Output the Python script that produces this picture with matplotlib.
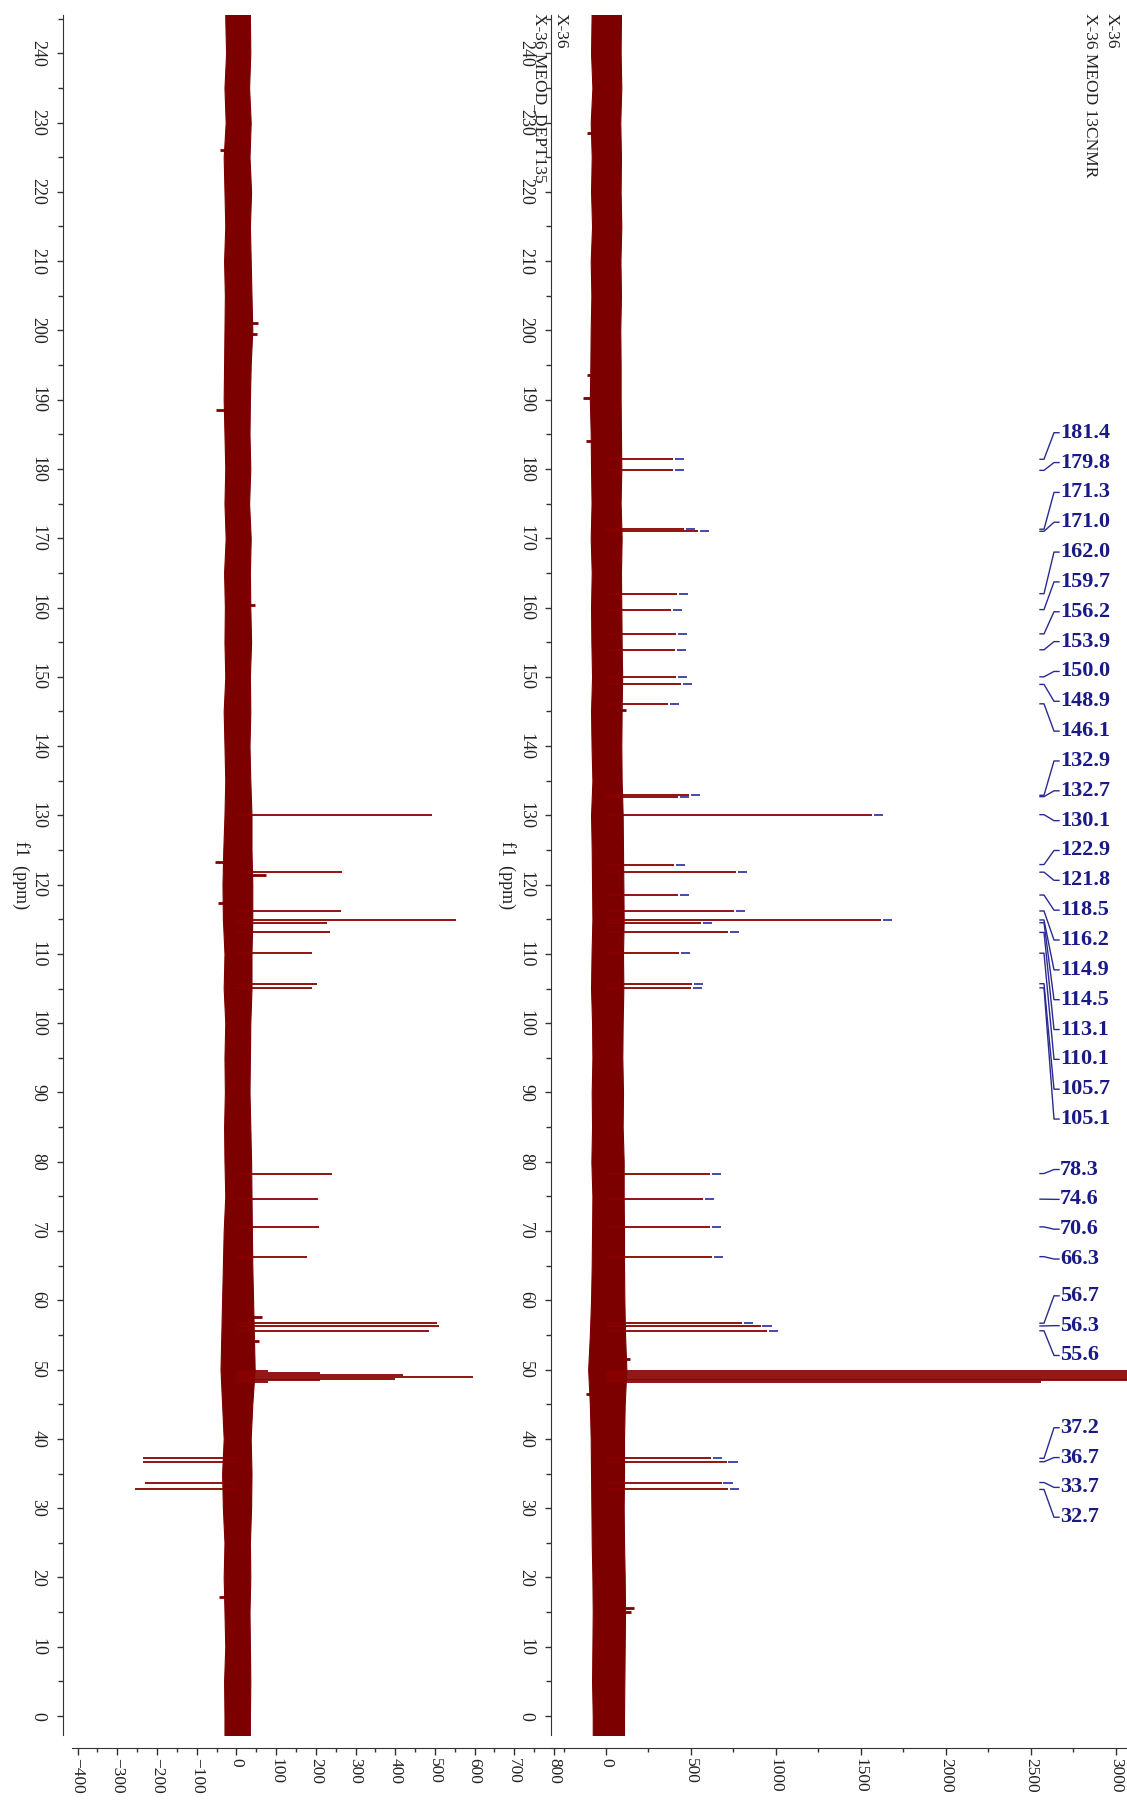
import matplotlib
matplotlib.use("Agg")
import matplotlib.pyplot as plt
from matplotlib.ticker import MultipleLocator

# ---------------- data ----------------
c13_ppm = [181.4, 179.8, 171.3, 171.0, 162.0, 159.7, 156.2, 153.9, 150.0, 148.9,
           146.1, 132.9, 132.7, 130.1, 122.9, 121.8, 118.5, 116.2, 114.9, 114.5,
           113.1, 110.1, 105.7, 105.1, 78.3, 74.6, 70.6, 66.3, 56.7, 56.3, 55.6,
           37.2, 36.7, 33.7, 32.7]
c13_int = [394, 394, 459, 541, 418, 382, 412, 406, 412, 441,
           365, 490, 425, 1565, 400, 765, 424, 753, 1620, 560,
           718, 429, 506, 500, 612, 570, 612, 623, 800, 910, 950,
           620, 710, 680, 720]
c13_labels = ["181.4", "179.8", "171.3", "171.0", "162.0", "159.7", "156.2", "153.9",
              "150.0", "148.9", "146.1", "132.9", "132.7", "130.1", "122.9", "121.8",
              "118.5", "116.2", "114.9", "114.5", "113.1", "110.1", "105.7", "105.1",
              "78.3", "74.6", "70.6", "66.3", "56.7", "56.3", "55.6",
              "37.2", "36.7", "33.7", "32.7"]

dept_ppm = [130.1, 121.8, 116.2, 114.9, 114.5, 113.1, 110.1, 105.7, 105.1,
            78.3, 74.6, 70.6, 66.3, 56.7, 56.3, 55.6, 37.2, 36.7, 33.7, 32.7]
dept_int = [492, 266, 263, 553, 228, 236, 191, 203, 191,
            241, 206, 209, 178, 505, 510, 485, -236, -236, -231, -256]

solvent_ppm = [49.86, 49.57, 49.29, 49.00, 48.71, 48.43, 48.14]
c13_solvent_int = [3500, 9000, 15000, 17000, 15000, 9000, 2560]
dept_solvent_int = [80, 211, 420, 595, 400, 211, 80]

noise_ppm = [250, 245, 240, 235, 230, 225, 220, 215, 210, 205, 200, 195, 190, 185,
             180, 175, 170, 165, 160, 155, 150, 145, 140, 135, 130, 125, 120, 115,
             110, 105, 100, 95, 90, 85, 80, 75, 70, 65, 60, 55, 50, 45, 40, 35,
             30, 25, 20, 15, 10, 5, 0, -5]
dept_noise_lo = [-28, -28, -26, -30, -27, -32, -30, -28, -31, -29, -30, -31, -32, -30,
                 -28, -30, -27, -31, -29, -30, -28, -32, -30, -28, -30, -33, -35, -34,
                 -30, -32, -28, -30, -29, -31, -30, -28, -32, -34, -36, -38, -40, -36,
                 -32, -36, -34, -30, -32, -30, -28, -31, -30, -30]
dept_noise_hi = [34, 34, 35, 32, 36, 33, 37, 34, 36, 38, 40, 36, 34, 33,
                 35, 32, 36, 34, 35, 37, 34, 35, 33, 35, 38, 38, 40, 40,
                 38, 38, 35, 34, 33, 35, 37, 38, 39, 40, 42, 44, 46, 40,
                 36, 38, 37, 34, 35, 33, 34, 35, 34, 34]
c13_noise_lo = [-85, -85, -88, -80, -90, -84, -88, -82, -90, -86, -90, -92, -95, -90,
                -88, -85, -90, -84, -88, -86, -82, -88, -85, -80, -88, -84, -82, -80,
                -85, -88, -82, -80, -84, -82, -86, -80, -82, -84, -88, -95, -105, -95,
                -90, -88, -86, -84, -80, -78, -80, -82, -78, -78]
c13_noise_hi = [85, 88, 86, 90, 84, 88, 86, 90, 85, 88, 84, 86, 86, 88,
                90, 86, 92, 88, 90, 92, 95, 92, 90, 92, 98, 100, 102, 104,
                100, 102, 98, 96, 100, 98, 104, 104, 106, 106, 108, 112, 120, 110,
                106, 106, 104, 106, 110, 112, 110, 108, 106, 106]

# isolated baseline-noise spikes
dept_spike_ppm = [201.0, 199.5, 188.5, 123.2, 121.4, 117.3, 57.6, 54.2, 17.2, 226.0, 160.4]
dept_spike_int = [55, 52, -52, -55, 75, -46, 64, 58, -45, -42, 48]
c13_spike_ppm = [190.3, 184.0, 193.5, 15.6, 15.0, 51.5, 46.5, 228.5, 145.2]
c13_spike_int = [-135, -120, -110, 162, 150, 140, -115, -110, 120]

ppm_ticks = list(range(0, 250, 10))
dept_ticks = list(range(-400, 900, 100))
c13_ticks = list(range(0, 3500, 500))

# ---------------- layout (pixels) ----------------
W, H = 1127, 1800
PPM0_Y, PX_PER_PPM = 1716.0, 6.928
AX_TOP, AX_BOT = 15, 1735
RED = "#7d0000"
NAVY = "#1a1a86"
SERIF = ["Liberation Serif", "DejaVu Serif"]

fig = plt.figure(figsize=(W / 100, H / 100), dpi=100)


def px_axes(x0, x1):
    return fig.add_axes([x0 / W, 1 - AX_BOT / H, (x1 - x0) / W, (AX_BOT - AX_TOP) / H])


ylim = ((PPM0_Y - AX_BOT) / PX_PER_PPM, (PPM0_Y - AX_TOP) / PX_PER_PPM)

# left (DEPT) panel: 0 at x=236.4 px, 0.397 px/unit
axL = px_axes(63, 557)
axL.set_xlim((63 - 236.4) / 0.397, (557 - 236.4) / 0.397)
# right (13C) panel: 0 at x=606 px, 0.1699 px/unit
axR = px_axes(551, 1127)
R0, RS = 606.0, 0.1699
axR.set_xlim((551 - R0) / RS, (1127 - R0) / RS)
axR.patch.set_alpha(0)
axL.patch.set_alpha(0)


def rx(px):
    return (px - R0) / RS


for ax, ppm, inten, lo, hi, sppm, sint, kp, ki, xt, minor in (
        (axL, dept_ppm, dept_int, dept_noise_lo, dept_noise_hi, solvent_ppm,
         dept_solvent_int, dept_spike_ppm, dept_spike_int, dept_ticks, 50),
        (axR, c13_ppm, c13_int, c13_noise_lo, c13_noise_hi, solvent_ppm,
         c13_solvent_int, c13_spike_ppm, c13_spike_int, c13_ticks, 250)):
    ax.set_ylim(*ylim)
    ax.fill_betweenx(noise_ppm, lo, hi, color=RED, lw=0.8, edgecolor=RED)
    ax.hlines(kp, 0, ki, color=RED, lw=2.0)
    ax.hlines(ppm, 0, inten, color="#880000", lw=1.3)
    ax.hlines(sppm, 0, sint, color="#880000", lw=1.3)
    for s in ("top", "right"):
        ax.spines[s].set_visible(False)
    ax.spines["bottom"].set_position(("outward", 13 * 0.72))
    ax.spines["left"].set_color("#333333")
    ax.spines["bottom"].set_color("#333333")
    ax.set_yticks(ppm_ticks)
    ax.yaxis.set_minor_locator(MultipleLocator(5))
    ax.set_xticks(xt)
    ax.xaxis.set_minor_locator(MultipleLocator(minor))
    ax.tick_params(axis="y", which="major", direction="out", length=4, width=1,
                   labelsize=13, labelrotation=-90, pad=8, colors="#333333")
    ax.tick_params(axis="y", which="minor", direction="out", length=3.5, width=1, colors="#333333")
    ax.tick_params(axis="x", which="major", direction="out", length=5, width=1,
                   labelsize=12.5, labelrotation=-90, pad=2, colors="#333333")
    ax.tick_params(axis="x", which="minor", direction="out", length=3, width=1, colors="#333333")
    for t in ax.get_yticklabels():
        t.set_va("center")
        t.set_family(SERIF)
        t.set_color("#222222")
    for t in ax.get_xticklabels():
        t.set_family(SERIF)
        t.set_color("#222222")
    ax.set_ylabel("f1  (ppm)", rotation=-90, family=SERIF, fontsize=13,
                  va="center", ha="center", color="#222222")

axL.spines["bottom"].set_bounds(-415, (557 - 236.4) / 0.397)
axL.yaxis.set_label_coords((21 - 63) / (557 - 63), 0.5)
axR.yaxis.set_label_coords((507 - 551) / (1127 - 551), 0.5)

# peak-pick markers on 13C spectrum
axR.hlines(c13_ppm, [v + 10 for v in c13_int], [v + 65 for v in c13_int],
           color="#4848a8", lw=1.4)

# peak labels (layout: groups of labels stacked with fixed spacing)
label_group_top = [185.23, 78.88, 60.65, 41.61]
label_group_size = [24, 4, 3, 4]
LABEL_STEP = 29.84 / PX_PER_PPM
label_y = []
for top, n in zip(label_group_top, label_group_size):
    label_y += [top - i * LABEL_STEP for i in range(n)]

for p, ly, txt in zip(c13_ppm, label_y, c13_labels):
    axR.plot([rx(1040), rx(1044), rx(1054), rx(1059)], [p, p, ly, ly],
             color="#2a2a90", lw=1.0, clip_on=False)
    axR.text(rx(1060), ly, txt, ha="left", va="center", fontsize=16,
             fontweight="bold", family=SERIF, color=NAVY, clip_on=False)

# titles
for x, s in ((1112, "X-36"), (1090, "X-36 MEOD 13CNMR"),
             (561, "X-36"), (540, "X-36 MEOD_DEPT135")):
    fig.text(x / W, 1 - 13 / H, s, rotation=-90, ha="center", va="top",
             fontsize=12.5, family=SERIF, color="#222222")

fig.savefig("out.png", dpi=100)
